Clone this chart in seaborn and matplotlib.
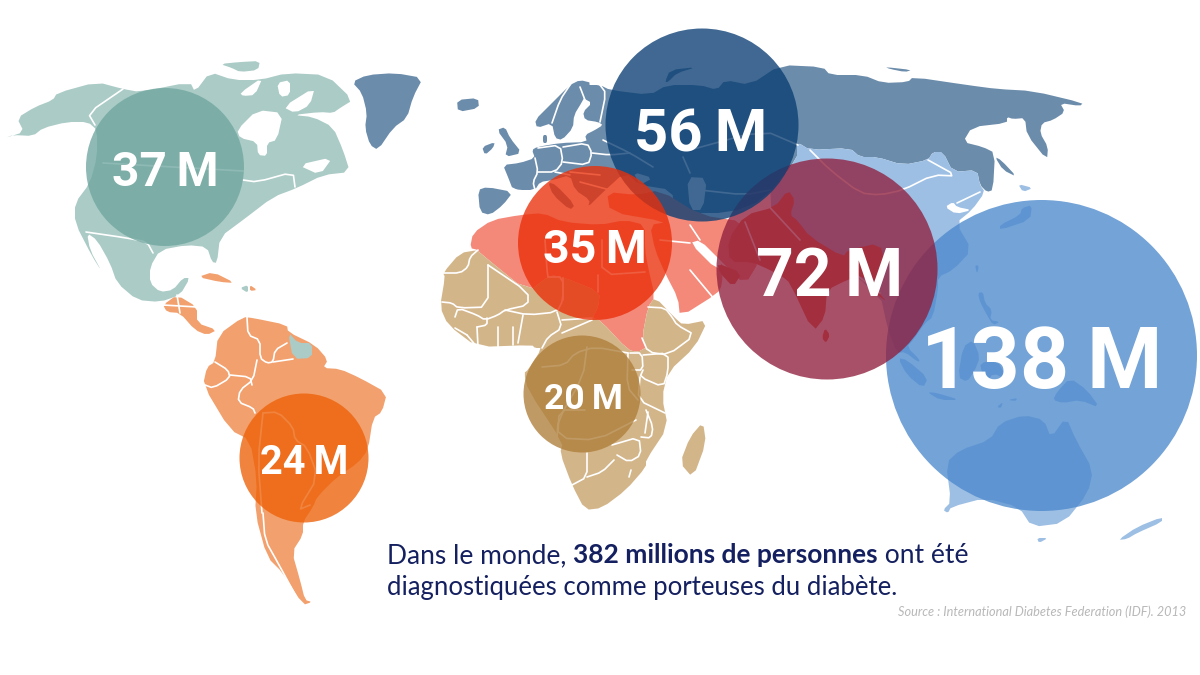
import matplotlib
matplotlib.use("Agg")
import matplotlib.pyplot as plt
from matplotlib.patches import Polygon
import pandas as pd
import seaborn as sns

# ---------- data ----------
regions = ["Pacifique occidental", "Asie du Sud-Est", "Europe", "Amérique du Nord",
           "Moyen-Orient", "Amérique du Sud", "Afrique"]
millions = [138, 72, 56, 37, 35, 24, 20]
labels = ["138 M", "72 M", "56 M", "37 M", "35 M", "24 M", "20 M"]
map_x = [1041.5, 827, 702, 165, 595, 304, 582]
map_y = [355.5, 269, 125, 167, 243, 458, 394]
diameter_px = [311, 221, 193, 158, 154, 129, 117]
text_x = [1042, 829, 701, 165, 595, 304, 583]
text_y = [357, 272, 130, 169, 246, 460, 396]
text_size = [62, 47.5, 43, 34.5, 33.5, 28.5, 25.5]
bubble_colors = ["#4c89cc", "#901f3d", "#0a3e73", "#6fa69f", "#ea2f09", "#ed6108", "#ae7e3a"]

TEAL, NAVY, SKY, SALMON, TAN, ORANGE = "#abcbc6", "#6b8cab", "#9dbfe4", "#f4897a", "#d3b58a", "#f2a06d"
SOUTH_ASIA = "#e86446"

# ---------- map outlines (pixel-based map projection of the figure) ----------
land = [
 (TEAL, [(5,138),(24,132),(17,118),(35,107),(53,100),(57,93),(97,82),(123,89),(140,92),(190,82),(195,92),(210,72),(233,80),(260,80),(287,73),(327,75),(353,100),(340,108),(333,113),(320,112),(293,115),(313,117),(333,127),(343,150),(350,172),(323,175),(297,188),(273,197),(243,220),(220,237),(217,263),(212,262),(207,247),(187,245),(160,250),(150,267),(150,283),(160,292),(173,290),(183,278),(190,278),(180,295),(160,302),(137,300),(117,283),(110,263),(97,240),(87,233),(90,250),(102,272),(92,256),(75,223),(75,203),(90,183),(97,157),(97,130),(88,122),(67,122),(43,128),(33,136),(13,135)]),
 (TEAL, [(220,64),(240,62),(260,61),(258,70),(240,72),(232,68)]),
 (NAVY, [(352,82),(367,75),(395,73),(423,78),(413,97),(407,118),(393,128),(378,150),(370,145),(365,128),(367,113),(362,93)]),
 (ORANGE, [(163,305),(177,295),(197,307),(197,323),(217,330),(207,335),(195,330),(180,313),(167,312)]),
 (ORANGE, [(198,277),(213,272),(235,283),(220,282)]),
 (TEAL, [(240,288),(248,285),(248,293)]),
 (ORANGE, [(250,285),(257,290),(250,291)]),
 (ORANGE, [(218,335),(243,317),(253,318),(287,325),(288,332),(315,345),(328,360),(323,368),(340,369),(360,378),(387,393),(382,412),(373,418),(368,450),(358,463),(337,477),(317,497),(313,507),(303,522),(303,535),(292,552),(300,580),(305,600),(312,602),(303,605),(283,573),(267,557),(255,513),(257,480),(250,440),(230,430),(203,385),(207,367),(215,362)]),
 (TEAL, [(288,332),(298,343),(312,343),(312,358),(293,359)]),
 # Russia + Europe + Central Asia
 (NAVY, [(532,150),(537,147),(560,143),(587,142),(585,135),(595,130),(603,125),(598,122),(585,120),(583,112),(592,103),(583,98),(585,85),(600,85),(610,90),(650,95),(667,85),(700,85),(717,90),(725,80),(750,85),(780,65),(823,67),(830,75),(863,75),(883,83),(908,82),(913,77),(967,85),(997,89),(1033,91),(1083,103),(1080,106),(1060,103),(1065,112),(1053,120),(1042,123),(1040,133),(1048,147),(1047,160),(1027,135),(1025,118),(1013,119),(1007,117),(1007,123),(972,127),(963,142),(983,147),(995,153),(993,190),(987,192),(980,185),(977,170),(953,172),(943,152),(933,152),(928,160),(903,165),(877,157),(860,157),(850,148),(810,150),(797,142),(797,160),(763,200),(730,213),(675,213),(672,190),(640,185),(625,172),(600,195),(588,207),(590,200),(575,190),(570,175),(553,180),(540,182),(535,190),(513,190),(508,177),(503,165),(520,163),(535,158)]),
 (NAVY, [(535,120),(550,105),(570,85),(580,80),(592,83),(582,102),(574,115),(573,128),(562,140),(555,138),(552,123),(537,128)]),
 (NAVY, [(478,190),(487,187),(513,192),(503,205),(490,215),(480,212)]),
 (NAVY, [(548,182),(556,185),(575,205),(570,210),(553,195)]),
 (NAVY, [(457,100),(478,98),(479,108),(458,112)]),
 (NAVY, [(497,130),(505,127),(510,138),(522,153),(505,157),(508,145)]),
 (NAVY, [(482,147),(495,142),(493,148),(485,155)]),
 (NAVY, [(543,135),(547,135),(547,143),(543,143)]),
 (NAVY, [(885,67),(912,70),(905,72),(890,69)]),
 (NAVY, [(665,82),(670,70),(697,67),(677,73),(668,82)]),
 (NAVY, [(995,157),(1001,160),(1017,177),(1003,170)]),
 # China / East Asia / SE Asia
 (SKY, [(797,142),(810,150),(850,148),(860,157),(877,157),(903,165),(928,160),(933,152),(943,152),(953,172),(977,170),(980,185),(985,192),(972,210),(956,223),(972,250),(953,270),(938,277),(938,290),(933,317),(925,323),(913,340),(907,347),(920,360),(918,362),(905,352),(897,353),(888,330),(880,293),(800,240),(763,200),(797,160)]),
 (SKY, [(1018,184),(1033,188),(1023,192)]),
 (SKY, [(1000,230),(1030,220),(1032,205),(1022,208),(1020,215),(1000,225)]),
 (SKY, [(975,265),(979,266),(977,274)]),
 (SKY, [(978,293),(983,292),(985,303),(992,310),(990,320),(1000,322),(993,325),(987,315),(980,302)]),
 (SKY, [(958,377),(963,347),(973,340),(980,357),(975,370),(967,382)]),
 (SKY, [(898,358),(907,360),(928,378),(923,388),(907,375)]),
 (SKY, [(927,392),(937,393),(960,400),(940,400)]),
 (SKY, [(980,363),(997,360),(1008,380),(993,373),(987,383),(982,373)]),
 (SKY, [(1057,392),(1070,378),(1087,390),(1100,408),(1080,400),(1063,403),(1053,400)]),
 (SKY, [(997,407),(1003,402),(1001,408)]),
 (SKY, [(1008,400),(1017,398),(1016,401)]),
 (SKY, [(943,510),(951,502),(946,463),(960,450),(990,440),(1000,423),(1024,415),(1044,420),(1051,438),(1066,417),(1076,440),(1093,470),(1088,493),(1064,523),(1032,527),(1019,507),(985,498),(951,507),(948,513)]),
 (SKY, [(1037,538),(1048,538),(1039,543)]),
 (SKY, [(1118,540),(1137,527),(1162,517),(1162,522),(1137,533),(1127,539)]),
 # MENA + South Asia
 (SALMON, [(470,248),(473,233),(492,220),(520,215),(543,213),(563,222),(600,225),(625,220),(645,225),(645,250),(648,267),(655,297),(648,307),(642,338),(647,347),(638,352),(628,350),(600,320),(592,318),(598,308),(600,292),(563,277),(550,275),(528,292),(480,253),(478,250)]),
 (SALMON, [(607,192),(637,195),(660,190),(700,215),(745,222),(760,260),(745,285),(722,262),(700,240),(690,243),(717,270),(723,262),(722,285),(718,293),(680,317),(678,298),(665,273),(655,250),(650,225),(667,222),(610,212)]),
 (SOUTH_ASIA, [(728,240),(745,215),(775,207),(788,190),(795,200),(790,215),(797,220),(810,237),(843,257),(848,250),(880,243),(885,265),(877,273),(875,293),(887,302),(878,292),(862,275),(847,280),(827,290),(825,317),(813,332),(790,283),(783,277),(770,270),(752,262),(730,262)]),
 (SOUTH_ASIA, [(717,263),(742,273),(733,287),(720,273)]),
 (SOUTH_ASIA, [(825,328),(830,335),(826,343),(822,338)]),
 # Sub-Saharan Africa
 (TAN, [(440,307),(445,277),(443,273),(460,253),(478,250),(480,253),(528,292),(550,275),(563,277),(600,292),(598,308),(592,318),(600,320),(628,350),(638,352),(647,347),(642,338),(648,307),(655,297),(675,318),(683,325),(708,320),(695,347),(668,372),(662,397),(668,427),(646,460),(646,467),(626,490),(602,508),(585,510),(572,485),(560,453),(563,443),(528,390),(524,373),(528,370),(542,348),(535,348),(532,345),(477,347),(448,325)]),
 (TAN, [(703,422),(706,443),(693,478),(680,463),(690,437)]),
]

holes = [
 [(237,130),(257,110),(283,113),(277,140),(267,143),(267,156),(258,155),(257,142),(240,138)],
 [(298,165),(333,157),(320,175)],
 [(240,93),(263,77),(255,95),(243,96)],
 [(277,83),(290,80),(290,95),(280,97)],
 [(283,107),(315,87),(310,105),(295,113)],
 [(633,172),(653,178),(640,185)],
 [(687,177),(707,178),(703,210),(690,210)],
 [(945,207),(953,202),(957,207),(972,210),(956,214)],
]

borders = [
 [(123,89),(88,113),(95,125)], [(243,180),(257,182),(293,172),(295,187)],
 [(86,232),(127,238),(147,242),(153,253)], [(103,163),(243,171)],
 [(177,295),(180,313)], [(163,305),(197,307)],
 [(247,317),(248,335),(260,340),(260,358),(267,363),(273,362),(275,350),(287,343)],
 [(293,359),(273,362)], [(257,360),(253,380),(240,390),(238,402),(253,408),(255,413)],
 [(215,362),(228,370),(230,378),(213,388),(205,385)], [(230,375),(250,377),(252,385)],
 [(263,513),(265,540),(278,563),(298,600)], [(263,413),(278,412),(293,427),(295,440),(307,447),(318,477),(298,510),(310,505)],
 [(263,413),(258,460),(262,513)],
 # Africa
 [(478,250),(470,257),(468,267),(460,273),(443,273)],
 [(488,265),(488,307),(458,308),(452,303),(442,302)],
 [(488,265),(528,292),(528,305),(505,310),(498,315),(485,320),(477,315),(458,308),(455,317)],
 [(563,278),(563,300),(557,312),(528,315),(505,310)],
 [(557,312),(562,328),(548,337),(542,348)], [(562,320),(592,318)],
 [(523,315),(518,343)], [(498,327),(498,347)], [(477,327),(478,347)], [(513,327),(513,345)],
 [(487,318),(487,325),(477,327)], [(467,335),(477,347)], [(455,328),(467,335)],
 [(562,333),(592,320)], [(542,367),(565,365),(575,353),(595,347),(628,353)],
 [(587,347),(583,377),(558,420),(557,440)], [(628,353),(627,387),(638,400)],
 [(648,307),(665,308),(672,317),(677,325),(695,335),(668,355),(648,352),(642,338)],
 [(630,353),(642,353),(643,370),(632,370)],
 [(643,355),(668,353),(668,372),(663,387),(640,377),(643,370)],
 [(640,377),(638,400),(665,413)], [(648,412),(645,433)],
 [(641,437),(651,438),(653,427),(646,410)],
 [(612,445),(639,437),(641,455),(629,462),(617,455)], [(587,453),(587,477),(572,485)],
 [(587,477),(602,472),(614,460)], [(629,477),(631,470)],
 [(585,410),(559,410),(558,438),(597,440),(636,420)],
 # North Africa / Middle East
 [(548,277),(563,277),(563,300)], [(602,240),(602,275),(645,272)], [(598,292),(598,275)], [(545,240),(547,270),(548,277)],
 [(660,240),(690,243)], [(690,225),(700,240)], [(745,222),(760,260)], [(690,270),(715,300)],
 # Europe
 [(570,85),(560,100),(552,123)], [(580,87),(585,100)], [(600,85),(606,93),(600,122)],
 [(535,158),(538,172),(533,182),(535,190)], [(513,190),(535,192)],
 [(538,148),(560,145),(563,162),(555,172),(538,172)], [(563,147),(587,143),(592,153),(588,165),(563,162)],
 [(592,153),(610,155),(630,153)], [(603,140),(630,153),(653,167)],
 [(570,172),(600,175)], [(580,182),(610,190)], [(555,172),(570,175)],
 # Central and East Asia
 [(683,157),(690,173)], [(690,150),(763,130),(798,145)], [(700,190),(745,195),(770,190)],
 [(800,240),(763,200)], [(850,270),(880,293)], [(957,203),(980,192)],
 [(928,160),(957,176),(933,175),(903,190),(880,195),(860,193),(830,170),(810,150)],
]


def soften(pts, closed=True, k=0.22):
    """Round the corners of a hand-traced outline."""
    out = []
    n = len(pts)
    for i in range(n if closed else n - 1):
        (x0, y0), (x1, y1) = pts[i], pts[(i + 1) % n]
        out.append((x0 + k * (x1 - x0), y0 + k * (y1 - y0)))
        out.append((x1 - k * (x1 - x0), y1 - k * (y1 - y0)))
    if not closed:
        out = [pts[0]] + out + [pts[-1]]
    return out


# ---------- figure ----------
sns.set_theme(style="white")
fig, ax = plt.subplots(figsize=(12, 6.75), dpi=100)
ax.set_position([0, 0, 1, 1])

for color, pts in land:
    ax.add_patch(Polygon(soften(pts), closed=True, facecolor=color, edgecolor="none", zorder=1))
for pts in holes:
    ax.add_patch(Polygon(soften(pts), closed=True, facecolor="white", edgecolor="none", zorder=1.2))
for pts in borders:
    ax.plot(*zip(*soften(pts, closed=False)), color="white", lw=1.2, solid_joinstyle="round", zorder=1.5)

df = pd.DataFrame({"region": regions, "value": millions, "x": map_x, "y": map_y})
sns.scatterplot(data=df, x="x", y="y", hue="region", palette=dict(zip(regions, bubble_colors)),
                size="value", sizes={v: (d * 0.72) ** 2 for v, d in zip(millions, diameter_px)},
                alpha=0.78, linewidth=0, legend=False, ax=ax, zorder=3)

ax.set_xlim(0, 1200)
ax.set_ylim(675, 0)
ax.axis("off")

for lab, tx, ty, fs in zip(labels, text_x, text_y, text_size):
    ax.text(tx, ty + fs / 2, lab.replace(" ", "\u2009"), ha="center", va="baseline", color="white",
            fontsize=fs, fontweight="bold", family=["Roboto", "DejaVu Sans"], zorder=5)

# caption with a bold run
fig.canvas.draw()
rend = fig.canvas.get_renderer()
cap = dict(color="#14205f", family=["Lato", "DejaVu Sans"], va="baseline", zorder=5)
x = 387
for run, weight in [("Dans le monde, ", "normal"), ("382 millions de personnes", "bold"), (" ont été", "normal")]:
    t = ax.text(x, 563, run.replace(" ", "\u00a0"), fontweight=weight, fontsize=19, **cap)
    x = ax.transData.inverted().transform(t.get_window_extent(rend))[1][0]
ax.text(387, 595, "diagnostiquées comme porteuses du diabète.", fontsize=18.5, **cap)
ax.text(1186, 616, "Source : International Diabetes Federation (IDF). 2013", ha="right", va="baseline",
        color="#b8b8b8", fontsize=9.2, style="italic", family=["Lato", "DejaVu Sans"])

fig.savefig("out.png", dpi=100)
